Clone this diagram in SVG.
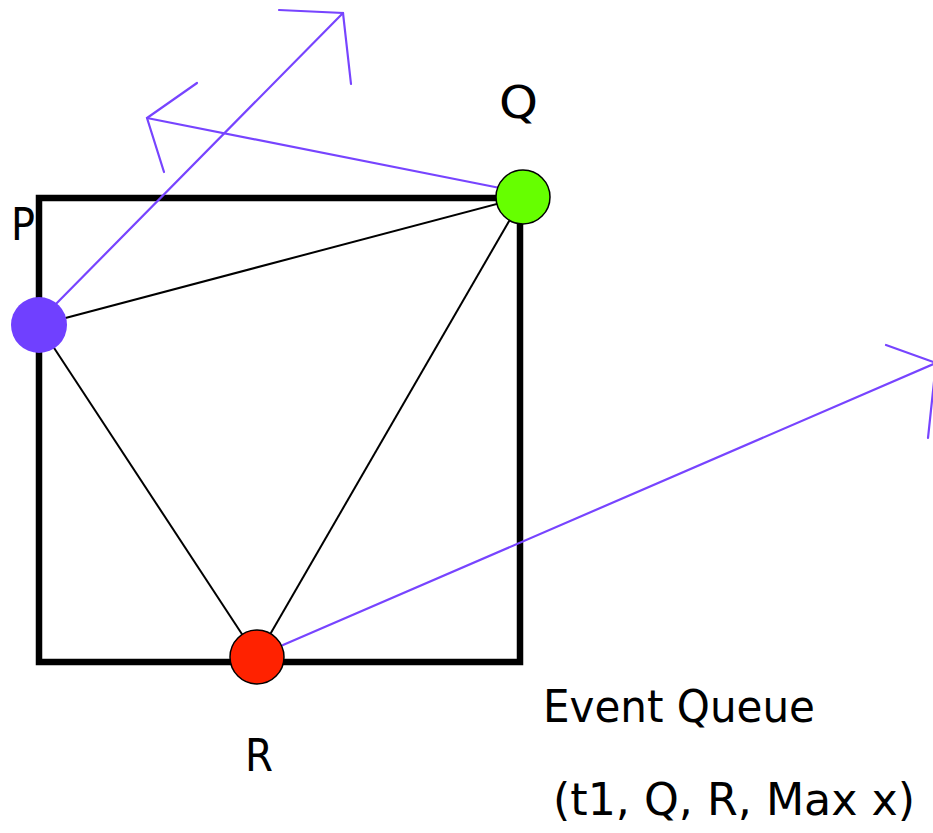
<svg xmlns="http://www.w3.org/2000/svg" width="933" height="833" viewBox="0 0 933 833">
<style>
.t{font-family:"DejaVu Sans","Verdana",sans-serif;font-size:44px;fill:#000}
.edge{stroke:#000;stroke-width:2;fill:none}
.vec{stroke:#7744FF;stroke-width:2.2;fill:none;stroke-linecap:round}
.box{stroke:#000;stroke-width:6.5;fill:none}
</style>
<rect width="933" height="833" fill="#fff"/>
<rect id="square" class="box" x="39" y="198" width="481" height="464"/>
<g id="connectors">
<line class="edge" x1="39" y1="325" x2="523" y2="197"/>
<line class="edge" x1="39" y1="325" x2="257" y2="657"/>
<line class="edge" x1="523" y1="197" x2="257" y2="657"/>
<line class="vec" x1="50" y1="310" x2="343" y2="13"/>
<polyline class="vec" points="279,10 343,13 351,84"/>
<line class="vec" x1="500" y1="188" x2="147" y2="118"/>
<polyline class="vec" points="197,83 147,118 164,172"/>
<line class="vec" x1="283" y1="645" x2="936" y2="363"/>
<polyline class="vec" points="886,345 936,363 928,438"/>
</g>
<g id="P"><circle cx="39" cy="325" r="28" fill="#7040FF"/><text class="t" x="11" y="240" textLength="24" lengthAdjust="spacingAndGlyphs">P</text></g>
<g id="Q"><circle cx="523" cy="197" r="27" fill="#66FF00" stroke="#000" stroke-width="1.5"/><text class="t" x="499" y="118" textLength="39" lengthAdjust="spacingAndGlyphs">Q</text></g>
<g id="R"><circle cx="257" cy="657" r="27" fill="#FF2200" stroke="#000" stroke-width="1.5"/><text class="t" x="245" y="771" textLength="28" lengthAdjust="spacingAndGlyphs">R</text></g>
<g id="labels">
<text class="t" x="543" y="722" textLength="272" lengthAdjust="spacingAndGlyphs">Event Queue</text>
<text class="t" x="553" y="815" textLength="362" lengthAdjust="spacingAndGlyphs">(t1, Q, R, Max x)</text>
</g>
</svg>
